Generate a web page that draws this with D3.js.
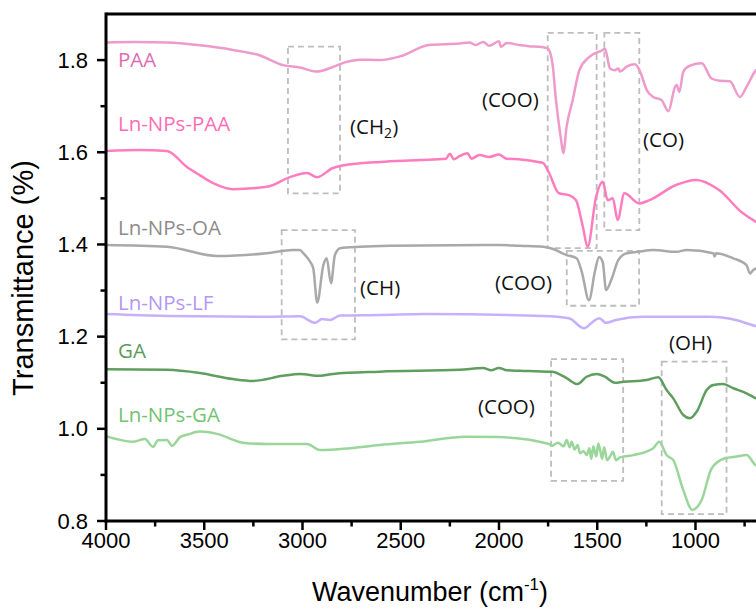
<!DOCTYPE html>
<html>
<head>
<meta charset="utf-8">
<script src="https://cdn.jsdelivr.net/npm/d3@7/dist/d3.min.js"></script>
<style>
  html, body { margin: 0; padding: 0; background: #fff; }
  svg { display: block; }
</style>
</head>
<body>
<svg id="chart" width="756" height="608"></svg>
<script>
// ---------- DATA (wavenumber cm-1, transmittance) ----------
const xTicks = [4000, 3500, 3000, 2500, 2000, 1500, 1000];
const yTicks = [0.8, 1.0, 1.2, 1.4, 1.6, 1.8];

const paa = [[4000,1.838],[3850,1.839],[3690,1.838],[3522,1.832],[3354,1.822],[3216,1.810],[3099,1.789],[3013,1.784],[2926,1.775],[2845,1.785],[2784,1.795],[2707,1.801],[2606,1.800],[2504,1.808],[2356,1.833],[2200,1.836],[2150,1.838],[2120,1.833],[2080,1.839],[2050,1.831],[2000,1.841],[1990,1.829],[1960,1.837],[1900,1.833],[1850,1.830],[1800,1.829],[1757,1.826],[1749,1.824],[1727,1.790],[1710,1.713],[1684,1.627],[1673,1.598],[1656,1.655],[1625,1.713],[1591,1.778],[1540,1.807],[1472,1.822],[1461,1.825],[1435,1.782],[1410,1.778],[1393,1.782],[1384,1.775],[1350,1.786],[1308,1.791],[1282,1.775],[1248,1.735],[1215,1.720],[1172,1.713],[1138,1.689],[1104,1.742],[1096,1.746],[1082,1.731],[1062,1.775],[1028,1.788],[968,1.793],[918,1.760],[875,1.755],[825,1.754],[774,1.720],[740,1.742],[692,1.778],[680,1.782]];

const npsPaa = [[4000,1.603],[3827,1.605],[3690,1.603],[3588,1.568],[3522,1.550],[3455,1.533],[3354,1.520],[3181,1.525],[3064,1.546],[2977,1.555],[2926,1.546],[2845,1.566],[2707,1.576],[2606,1.579],[2402,1.583],[2270,1.586],[2250,1.597],[2230,1.585],[2200,1.592],[2160,1.598],[2140,1.586],[2100,1.594],[2050,1.590],[2000,1.595],[1960,1.586],[1900,1.585],[1800,1.579],[1776,1.577],[1745,1.555],[1695,1.511],[1644,1.507],[1608,1.496],[1573,1.438],[1549,1.395],[1506,1.503],[1472,1.536],[1447,1.496],[1421,1.500],[1396,1.453],[1362,1.511],[1286,1.489],[1235,1.496],[1099,1.529],[997,1.540],[880,1.518],[760,1.468],[692,1.449],[680,1.446]];

const oa = [[4000,1.399],[3690,1.395],[3435,1.375],[3181,1.381],[3048,1.388],[3013,1.388],[2996,1.381],[2962,1.363],[2945,1.348],[2925,1.274],[2894,1.355],[2877,1.370],[2855,1.316],[2835,1.377],[2809,1.392],[2707,1.395],[2555,1.397],[1995,1.399],[1893,1.397],[1776,1.395],[1724,1.390],[1656,1.377],[1605,1.370],[1579,1.341],[1542,1.279],[1512,1.341],[1491,1.373],[1472,1.362],[1455,1.301],[1426,1.326],[1393,1.366],[1350,1.381],[1291,1.384],[1215,1.388],[1096,1.384],[1045,1.388],[909,1.381],[903,1.374],[896,1.381],[808,1.370],[740,1.355],[723,1.337],[707,1.344],[692,1.348],[680,1.350]];

const lf = [[4000,1.249],[3690,1.245],[3181,1.243],[3013,1.244],[2936,1.230],[2901,1.238],[2860,1.236],[2809,1.246],[2606,1.247],[2372,1.249],[1776,1.245],[1644,1.240],[1567,1.218],[1523,1.232],[1490,1.240],[1455,1.230],[1405,1.236],[1269,1.243],[931,1.243],[794,1.236],[692,1.223],[680,1.222]];

const ga = [[4000,1.129],[3690,1.128],[3522,1.121],[3354,1.108],[3252,1.104],[3099,1.115],[3013,1.119],[2911,1.115],[2845,1.119],[2606,1.124],[2200,1.128],[2080,1.132],[2040,1.127],[2000,1.132],[1960,1.127],[1893,1.126],[1745,1.124],[1732,1.124],[1656,1.110],[1601,1.097],[1554,1.113],[1503,1.119],[1461,1.113],[1410,1.100],[1367,1.102],[1248,1.106],[1189,1.112],[1147,1.084],[1113,1.066],[1062,1.030],[1028,1.023],[994,1.037],[943,1.084],[909,1.095],[859,1.097],[808,1.088],[740,1.077],[692,1.066],[680,1.064]];

const npsGa = [[4000,0.984],[3929,0.976],[3863,0.972],[3802,0.978],[3761,0.961],[3735,0.975],[3690,0.976],[3664,0.963],[3623,0.982],[3588,0.987],[3522,0.994],[3435,0.989],[3303,0.970],[3181,0.967],[2977,0.967],[2911,0.954],[2758,0.958],[2606,0.965],[2402,0.972],[2168,0.983],[2000,0.982],[1745,0.967],[1732,0.963],[1700,0.970],[1670,0.962],[1656,0.976],[1640,0.960],[1630,0.972],[1615,0.955],[1600,0.965],[1588,0.947],[1570,0.952],[1554,0.943],[1540,0.958],[1530,0.935],[1520,0.962],[1505,0.940],[1495,0.968],[1486,0.955],[1475,0.935],[1465,0.960],[1450,0.932],[1435,0.940],[1420,0.950],[1405,0.932],[1384,0.938],[1317,0.943],[1215,0.958],[1185,0.972],[1147,0.943],[1113,0.932],[1062,0.867],[1016,0.824],[968,0.846],[918,0.914],[850,0.936],[790,0.940],[740,0.943],[692,0.921],[680,0.920]];

const seriesNames = ["PAA", "Ln-NPs-PAA", "Ln-NPs-OA", "Ln-NPs-LF", "GA", "Ln-NPs-GA"];
const seriesData = [paa, npsPaa, oa, lf, ga, npsGa];
const lineColors = ["#ee9acb", "#ff7dbf", "#a9a9a9", "#c6b0fb", "#5f9e5f", "#9ad69a"];
const labelColors = ["#de6cb1", "#ff6cb6", "#8c8c8c", "#b497f5", "#5b9b5b", "#72c272"];
// label anchor (wavenumber, value at baseline)
const labelPos = [[3939,1.786],[3939,1.647],[3939,1.420],[3939,1.258],[3939,1.154],[3939,1.015]];

// dashed boxes [w1, w2, v1, v2]
const boxes = [[3074,2809,1.829,1.511],[1752,1503,1.859,1.392],[1464,1286,1.859,1.431],[3106,2733,1.431,1.194],[1655,1287,1.386,1.267],[1735,1368,1.151,0.887],[1172,842,1.146,0.815]];
// annotations [text, sub, wavenumber (left), value (centre)]
const notes = [["(CH","2",2758,1.655],["(COO)","",2087,1.713],["(CO)","",1267,1.626],["(CH)","",2707,1.305],["(COO)","",2020,1.316],["(OH)","",1135,1.186],["(COO)","",2107,1.047]];

// ---------- CHART ----------
const svg = d3.select("#chart");
const L = 106, R = 756, T = 14, B = 521;
const x = d3.scaleLinear().domain([4000, 692]).range([L, R]);
const y = d3.scaleLinear().domain([0.8, 1.9]).range([B, T]);

svg.append("defs").append("clipPath").attr("id", "clip")
  .append("rect").attr("x", L).attr("y", T).attr("width", R - L + 10).attr("height", B - T);

const plot = svg.append("g").attr("clip-path", "url(#clip)");

// boxes
plot.selectAll("rect.box").data(boxes).enter().append("rect")
  .attr("class", "box")
  .attr("x", d => x(d[0])).attr("y", d => y(d[2]))
  .attr("width", d => x(d[1]) - x(d[0])).attr("height", d => y(d[3]) - y(d[2]))
  .attr("fill", "none").attr("stroke", "#bdbdbd").attr("stroke-width", 1.8)
  .attr("stroke-dasharray", "6,4");

const line = d3.line().x(d => x(d[0])).y(d => y(d[1])).curve(d3.curveMonotoneX);
plot.selectAll("path.series").data(seriesData).enter().append("path")
  .attr("class", "series")
  .attr("d", d => line(d.slice().sort((a, b) => a[0] - b[0])))
  .attr("fill", "none")
  .attr("stroke", (d, i) => lineColors[i])
  .attr("stroke-width", 2.5)
  .attr("stroke-linejoin", "round");

// series labels
svg.selectAll("text.slabel").data(seriesNames).enter().append("text")
  .attr("class", "slabel")
  .attr("x", (d, i) => x(labelPos[i][0]))
  .attr("y", (d, i) => y(labelPos[i][1]))
  .attr("fill", (d, i) => labelColors[i])
  .attr("font-family", "'Open Sans', sans-serif")
  .attr("font-size", 20.5)
  .text(d => d);

// annotations
const nt = svg.selectAll("text.note").data(notes).enter().append("text")
  .attr("class", "note")
  .attr("x", d => x(d[2]))
  .attr("y", d => y(d[3]) + 7)
  .attr("fill", "#111")
  .attr("font-family", "'Open Sans', sans-serif")
  .attr("font-size", 20.5);
nt.each(function(d) {
  const t = d3.select(this);
  t.append("tspan").text(d[0]);
  if (d[1]) {
    t.append("tspan").attr("font-size", 14).attr("dy", 4).text(d[1]);
    t.append("tspan").attr("dy", -4).text(")");
  }
});

// axes
const axisG = svg.append("g");
const xMinor = d3.range(3750, 600, -500);
axisG.selectAll("line.xmaj").data(xTicks).enter().append("line")
  .attr("x1", d => x(d)).attr("x2", d => x(d)).attr("y1", B).attr("y2", B + 9)
  .attr("stroke", "#000").attr("stroke-width", 2.5);
axisG.selectAll("line.xmin").data(xMinor).enter().append("line")
  .attr("x1", d => x(d)).attr("x2", d => x(d)).attr("y1", B).attr("y2", B + 5.5)
  .attr("stroke", "#000").attr("stroke-width", 2.5);
axisG.selectAll("text.xl").data(xTicks).enter().append("text")
  .attr("x", d => x(d)).attr("y", 548)
  .attr("text-anchor", "middle")
  .attr("font-family", "'Liberation Sans', Arial, sans-serif")
  .attr("font-size", 22).attr("fill", "#000")
  .text(d => d);

const yMinor = [0.9, 1.1, 1.3, 1.5, 1.7];
axisG.selectAll("line.ymaj").data(yTicks).enter().append("line")
  .attr("x1", L - 9).attr("x2", L).attr("y1", d => y(d)).attr("y2", d => y(d))
  .attr("stroke", "#000").attr("stroke-width", 2.5);
axisG.selectAll("line.ymin").data(yMinor).enter().append("line")
  .attr("x1", L - 5.5).attr("x2", L).attr("y1", d => y(d)).attr("y2", d => y(d))
  .attr("stroke", "#000").attr("stroke-width", 2.5);
axisG.selectAll("text.yl").data(yTicks).enter().append("text")
  .attr("x", 88).attr("y", d => y(d) + 7.5)
  .attr("text-anchor", "end")
  .attr("font-family", "'Liberation Sans', Arial, sans-serif")
  .attr("font-size", 22).attr("fill", "#000")
  .text(d => d.toFixed(1));

// frame lines (left, bottom, top)
axisG.append("line").attr("x1", L).attr("x2", L).attr("y1", T - 1.5).attr("y2", B + 1.5)
  .attr("stroke", "#000").attr("stroke-width", 3);
axisG.append("line").attr("x1", L).attr("x2", R + 5).attr("y1", B).attr("y2", B)
  .attr("stroke", "#000").attr("stroke-width", 3);
axisG.append("line").attr("x1", L).attr("x2", R + 5).attr("y1", T).attr("y2", T)
  .attr("stroke", "#000").attr("stroke-width", 3);

// axis titles
const xt = svg.append("text").attr("x", 430).attr("y", 601)
  .attr("text-anchor", "middle")
  .attr("font-family", "'Liberation Sans', Arial, sans-serif")
  .attr("font-size", 27).attr("fill", "#000");
xt.append("tspan").text("Wavenumber (cm");
xt.append("tspan").attr("font-size", 17).attr("dy", -11).text("-1");
xt.append("tspan").attr("dy", 11).text(")");

svg.append("text")
  .attr("transform", "translate(33,278) rotate(-90)")
  .attr("text-anchor", "middle")
  .attr("font-family", "'Liberation Sans', Arial, sans-serif")
  .attr("font-size", 29).attr("fill", "#000")
  .text("Transmittance (%)");
</script>
</body>
</html>
